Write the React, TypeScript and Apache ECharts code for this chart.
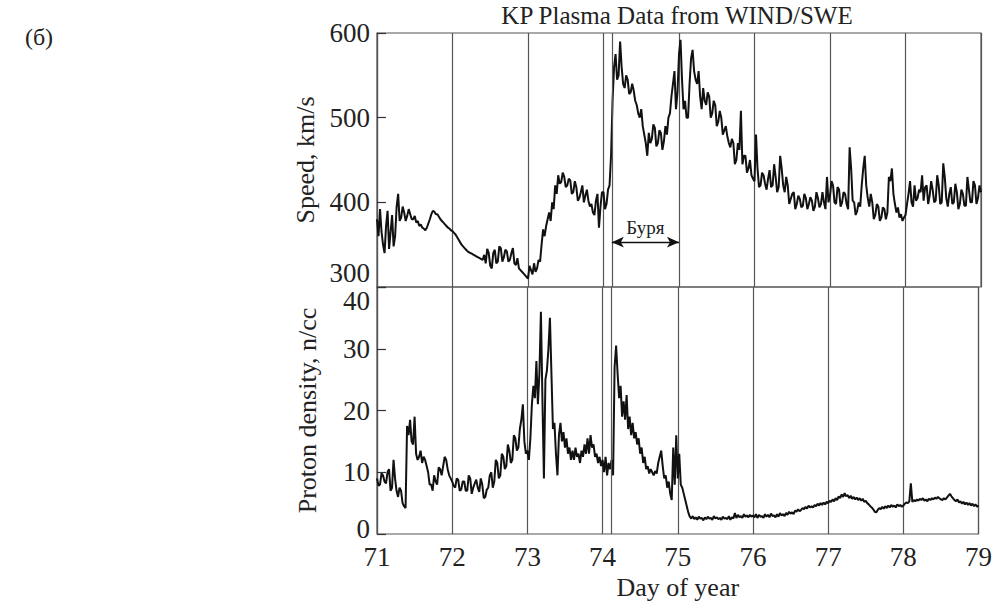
import React, { useEffect, useRef } from "react";
import * as echarts from "echarts";

const DAY_START = 71;
const STEP = 0.02;
const STORM_START = 74.11;
const STORM_END = 75;
const ARROW_SPEED = 353;

const dayTicks = [71, 72, 73, 74, 75, 76, 77, 78, 79];

// Solar wind speed, km/s, one value every 0.02 day (rows = days 71..78, then day 79.00)
const speedValues = [
  380, 360, 392, 365, 350, 340, 372, 390, 345, 365, 385, 348, 360, 395, 410, 378, 382, 395, 388, 378, 384, 392, 386, 380, 380, 384, 376, 378, 372, 374, 370, 369, 367, 370, 375, 380, 386, 390, 389, 386, 386, 383, 380, 378, 376, 374, 372, 370, 369, 367,
  366, 364, 362, 359, 356, 353, 350, 348, 346, 344, 342, 341, 340, 339, 338, 337, 336, 335, 334, 333, 332, 338, 328, 345, 340, 325, 322, 340, 344, 328, 330, 348, 346, 330, 335, 344, 342, 330, 332, 340, 346, 328, 326, 334, 322, 320, 318, 316, 314, 312,
  310, 325, 320, 315, 328, 318, 322, 332, 330, 350, 368, 360, 372, 380, 388, 378, 400, 392, 420, 410, 432, 422, 424, 435, 430, 418, 420, 428, 426, 410, 412, 425, 418, 402, 405, 412, 420, 400, 408, 415, 402, 395, 398, 388, 385, 402, 410, 370, 395, 412,
  412, 392, 398, 415, 420, 455, 520, 560, 575, 545, 550, 590, 560, 540, 535, 550, 545, 528, 530, 540, 532, 520, 515, 505, 500, 510, 490, 480, 470, 455, 482, 470, 475, 492, 488, 466, 470, 485, 482, 462, 472, 490, 480, 500, 505, 525, 540, 555, 510, 530,
  575, 592, 545, 510, 520, 500, 500, 540, 570, 580, 555, 545, 540, 555, 525, 510, 535, 520, 515, 530, 525, 500, 505, 520, 515, 490, 495, 508, 500, 480, 485, 490, 478, 470, 465, 475, 470, 445, 450, 470, 462, 508, 445, 455, 455, 435, 440, 450, 432, 428,
  425, 480, 440, 418, 420, 435, 432, 422, 415, 428, 438, 418, 420, 445, 430, 412, 418, 455, 440, 420, 412, 430, 420, 398, 404, 410, 412, 392, 398, 408, 404, 394, 396, 410, 405, 392, 398, 406, 402, 390, 395, 412, 405, 394, 398, 412, 400, 392, 430, 400,
  408, 425, 420, 400, 398, 418, 415, 395, 400, 412, 410, 398, 392, 465, 440, 402, 400, 385, 390, 400, 395, 420, 440, 455, 420, 405, 395, 410, 400, 380, 385, 398, 395, 378, 382, 394, 392, 380, 388, 430, 425, 440, 410, 398, 388, 394, 382, 386, 378, 382,
  385, 398, 410, 425, 400, 395, 420, 402, 405, 415, 412, 432, 402, 418, 420, 398, 408, 425, 415, 400, 402, 432, 420, 398, 400, 446, 430, 405, 395, 410, 418, 398, 400, 422, 412, 392, 398, 415, 410, 396, 396, 430, 415, 400, 400, 425, 420, 398, 405, 420,
  412,
];

// Proton density, n/cc, one value every 0.02 day
const densityValues = [
  9.0, 7.8, 8.0, 9.8, 9.5, 8.5, 8.2, 10.0, 10.5, 7.0, 7.5, 12.0, 9.0, 7.0, 6.0, 7.5, 7.0, 5.0, 4.5, 4.2, 17.5, 16.0, 18.5, 15.0, 14.5, 19.0, 13.0, 12.0, 12.5, 13.5, 11.5, 12.5, 12.0, 11.0, 10.0, 8.0, 8.0, 7.0, 9.5, 8.5, 8.0, 10.8, 10.5, 9.5, 11.0, 12.5, 12.0, 10.5, 9.5, 9.0,
  8.5, 7.8, 7.5, 9.0, 8.8, 7.0, 7.2, 8.5, 8.5, 7.0, 7.0, 9.5, 9.0, 6.5, 7.5, 8.2, 8.8, 7.5, 6.8, 9.0, 8.0, 5.8, 6.0, 7.2, 7.5, 9.5, 10.0, 7.5, 8.5, 12.0, 11.5, 9.0, 9.5, 13.0, 12.5, 10.5, 11.0, 14.5, 13.5, 11.5, 12.0, 16.0, 15.5, 13.5, 14.0, 17.0, 18.5, 21.0, 15.0, 13.0,
  13.5, 12.0, 15.5, 21.0, 24.0, 22.0, 28.0, 21.0, 26.0, 36.0, 22.0, 9.0, 25.0, 26.5, 30.0, 35.0, 26.0, 17.0, 18.0, 13.0, 9.5, 16.0, 18.0, 15.0, 16.5, 14.0, 15.5, 13.0, 14.0, 12.0, 13.5, 12.0, 14.0, 12.5, 13.0, 11.5, 13.5, 12.5, 14.5, 13.0, 15.5, 13.0, 16.0, 14.0, 14.5, 12.5, 13.0, 11.5, 12.5, 11.0,
  12.0, 10.0, 12.5, 9.5, 11.5, 10.5, 12.0, 9.5, 27.0, 30.5, 26.0, 22.0, 24.0, 19.0, 21.5, 18.5, 22.5, 17.0, 19.0, 16.0, 18.0, 15.5, 16.5, 14.5, 15.5, 13.0, 14.0, 11.5, 12.5, 10.5, 11.0, 9.8, 10.5, 10.0, 9.5, 10.2, 9.8, 11.5, 12.5, 13.5, 11.0, 9.0, 9.5, 7.5, 8.5, 6.5, 5.5, 14.0, 8.0, 16.0,
  9.0, 13.0, 8.0, 7.5, 6.5, 5.5, 4.5, 3.5, 2.8, 2.5, 2.9, 2.4, 2.7, 2.3, 2.8, 2.5, 2.6, 2.2, 2.7, 2.4, 2.8, 2.5, 2.6, 2.3, 2.9, 2.5, 2.7, 2.4, 2.6, 2.3, 2.8, 2.5, 2.6, 2.4, 2.9, 2.3, 2.7, 2.5, 3.4, 2.6, 3.1, 2.7, 2.9, 2.6, 3.2, 2.8, 3.0, 2.7, 3.1, 2.8,
  3.0, 2.7, 3.2, 2.6, 3.1, 2.8, 2.9, 2.6, 3.2, 2.8, 3.1, 2.7, 3.3, 2.9, 3.0, 2.7, 3.2, 2.8, 3.4, 3.0, 3.2, 2.9, 3.4, 3.1, 3.6, 3.3, 3.5, 3.2, 3.8, 3.6, 4.0, 3.7, 3.9, 4.2, 4.0, 4.4, 4.1, 4.6, 4.3, 4.5, 4.3, 4.7, 4.5, 4.9, 4.6, 5.0, 4.7, 5.1, 4.8, 5.2,
  5.0, 5.4, 5.2, 5.6, 5.3, 5.8, 5.5, 6.1, 5.8, 6.4, 6.0, 6.6, 6.1, 6.3, 5.8, 6.2, 5.7, 6.0, 5.6, 5.9, 5.5, 5.8, 5.4, 5.7, 5.2, 5.4, 5.0, 4.8, 4.5, 4.3, 4.0, 3.6, 3.5, 3.9, 4.2, 4.0, 4.4, 4.1, 4.5, 4.2, 4.6, 4.3, 4.7, 4.4, 4.6, 4.3, 4.8, 4.5, 4.7, 4.4,
  4.6, 4.9, 5.1, 5.0, 5.3, 8.2, 5.2, 5.5, 5.3, 5.6, 5.4, 5.7, 5.5, 5.8, 5.4, 5.6, 5.3, 5.7, 5.5, 5.8, 5.6, 5.9, 5.7, 6.0, 5.8, 5.6, 5.5, 5.8, 5.6, 5.9, 6.2, 6.5, 6.1, 5.8, 5.5, 5.3, 5.6, 5.1, 5.3, 4.9, 5.2, 4.8, 5.1, 4.7, 5.0, 4.6, 4.9, 4.5, 4.8, 4.4,
  4.6,
];

const FONT = "'Liberation Serif', 'DejaVu Serif', serif";
const TXT = "#222";
const FRAME = "#555";

export default function App() {
  const ref = useRef<HTMLDivElement>(null);

  useEffect(() => {
    if (!ref.current) return;
    const chart = echarts.init(ref.current, undefined, { renderer: "svg" });
    const toPairs = (vals: number[]) =>
      vals.map((v, i) => [Number((DAY_START + i * STEP).toFixed(2)), v]);

    const vLine = { xAxis: STORM_START };

    const xCommon = {
      type: "value",
      min: 71,
      max: 79,
      interval: 1,
      axisTick: { show: false },
      axisLine: { show: false },
      splitLine: { show: true, lineStyle: { color: FRAME, width: 1.2 } },
    };

    const yLabel = {
      color: TXT,
      fontFamily: FONT,
      fontSize: 27,
      margin: 7,
    };

    chart.setOption({
      animation: false,
      backgroundColor: "#fff",
      graphic: [
        {
          type: "text",
          style: {
            text: "KP Plasma Data from WIND/SWE",
            x: 677,
            y: 15,
            textAlign: "center",
            textVerticalAlign: "middle",
            fontFamily: FONT,
            fontSize: 25,
            fill: TXT,
          },
        },
        {
          type: "text",
          style: {
            text: "(б)",
            x: 39,
            y: 37,
            textAlign: "center",
            textVerticalAlign: "middle",
            fontFamily: FONT,
            fontSize: 24,
            fill: TXT,
          },
        },
      ],
      grid: [
        { left: 377, right: 14, top: 33, height: 254, show: true, borderColor: FRAME, borderWidth: 1.2 },
        { left: 377, right: 14, top: 287, height: 253, show: true, borderColor: FRAME, borderWidth: 1.2 },
      ],
      xAxis: [
        { ...xCommon, gridIndex: 0, axisLabel: { show: false } },
        {
          ...xCommon,
          gridIndex: 1,
          axisLabel: {
            show: true,
            color: TXT,
            fontFamily: FONT,
            fontSize: 27,
            margin: 9,
            customValues: dayTicks,
          },
          name: "Day of year",
          nameLocation: "middle",
          nameGap: 40,
          nameTextStyle: { color: TXT, fontFamily: FONT, fontSize: 26 },
        },
      ],
      yAxis: [
        {
          type: "value",
          gridIndex: 0,
          min: 300,
          max: 600,
          interval: 100,
          axisLine: { show: true, lineStyle: { color: FRAME, width: 1.2 } },
          axisTick: { show: true, inside: true, length: 9, lineStyle: { color: "#333", width: 1.2 } },
          splitLine: { show: false },
          axisLabel: {
            ...yLabel,
            formatter: (v: number) => (v === 300 ? "{lo|300}" : String(v)),
            rich: { lo: { fontFamily: FONT, fontSize: 27, color: TXT, padding: [0, 0, 28, 0] } },
          },
          name: "Speed, km/s",
          nameLocation: "middle",
          nameGap: 57,
          nameTextStyle: { color: TXT, fontFamily: FONT, fontSize: 26 },
        },
        {
          type: "value",
          gridIndex: 1,
          min: 0,
          max: 40,
          interval: 10,
          axisLine: { show: true, lineStyle: { color: FRAME, width: 1.2 } },
          axisTick: { show: true, inside: true, length: 9, lineStyle: { color: "#333", width: 1.2 } },
          splitLine: { show: false },
          axisLabel: {
            ...yLabel,
            formatter: (v: number) =>
              v === 40 ? "{hi|40}" : v === 0 ? "{lo|0}" : String(v),
            rich: {
              hi: { fontFamily: FONT, fontSize: 27, color: TXT, padding: [28, 0, 0, 0] },
              lo: { fontFamily: FONT, fontSize: 27, color: TXT, padding: [0, 0, 10, 0] },
            },
          },
          name: "Proton density, n/cc",
          nameLocation: "middle",
          nameGap: 57,
          nameTextStyle: { color: TXT, fontFamily: FONT, fontSize: 26 },
        },
      ],
      series: [
        {
          type: "line",
          xAxisIndex: 0,
          yAxisIndex: 0,
          data: toPairs(speedValues),
          showSymbol: false,
          lineStyle: { color: "#111", width: 2 },
          markLine: {
            silent: true,
            symbol: ["none", "none"],
            label: { show: false },
            lineStyle: { color: FRAME, width: 1.2, type: "solid" },
            data: [
              vLine,
              [
                {
                  coord: [STORM_START, ARROW_SPEED],
                  symbol: "arrow",
                  symbolSize: [8, 12],
                  label: {
                    show: true,
                    formatter: "Буря",
                    position: "middle",
                    fontFamily: FONT,
                    fontSize: 19,
                    color: TXT,
                    distance: 5,
                  },
                  lineStyle: { color: "#111", width: 1.4, type: "solid" },
                },
                { coord: [STORM_END, ARROW_SPEED], symbol: "arrow", symbolSize: [8, 12] },
              ],
            ],
          },
        },
        {
          type: "line",
          xAxisIndex: 1,
          yAxisIndex: 1,
          data: toPairs(densityValues),
          showSymbol: false,
          lineStyle: { color: "#111", width: 2 },
          markLine: {
            silent: true,
            symbol: ["none", "none"],
            label: { show: false },
            lineStyle: { color: FRAME, width: 1.2, type: "solid" },
            data: [vLine],
          },
        },
      ],
    });
    return () => chart.dispose();
  }, []);

  return (
    <div
      ref={ref}
      style={{ position: "fixed", left: 0, top: 0, width: 995, height: 601, background: "#fff" }}
    />
  );
}
